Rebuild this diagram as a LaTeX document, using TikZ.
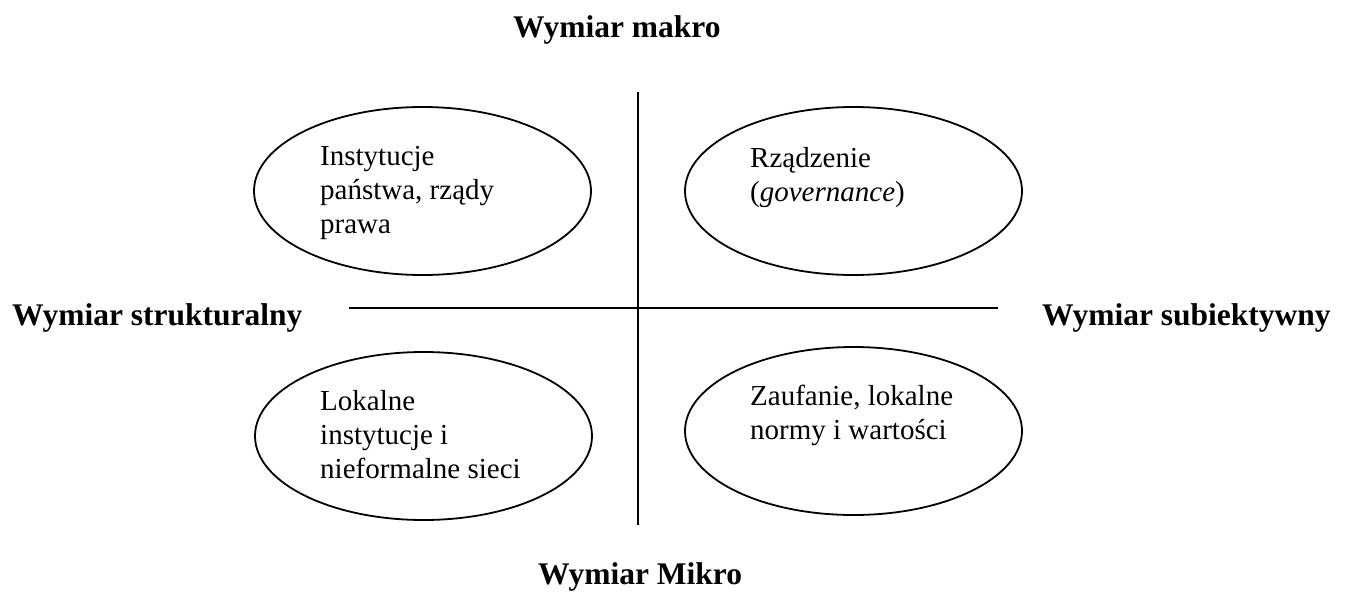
\documentclass[tikz,border=0pt]{standalone}
\usepackage{fontspec}
\setmainfont{Liberation Serif}
\usetikzlibrary{shapes.geometric}

% lines of a label stacked flush left; the box sits on the first baseline
\newcommand\stacklines[1]{\vtop{\baselineskip=34pt\lineskip=0pt\halign{##\hfil\cr#1\crcr}}}

\begin{document}
\begin{tikzpicture}[x=1pt, y=-1pt,
  axis/.style={line width=1.8pt},
  field/.style={ellipse, draw, line width=1.8pt, minimum width=337pt,
                minimum height=168pt, inner sep=0pt},
  fieldtext/.style={anchor=base west, inner sep=0pt,
                    font=\fontsize{29}{34}\selectfont},
  dimension/.style={anchor=base west, inner sep=0pt,
                    font=\fontsize{31.5}{36}\selectfont\bfseries}]
  \useasboundingbox (0,0) rectangle (1346,592);

  % axes
  \coordinate (top) at (638,92);
  \coordinate (bottom) at (638,525);
  \coordinate (left) at (349,308);
  \coordinate (right) at (998,308);
  \draw[axis] (top) -- (bottom);
  \draw[axis] (left) -- (right);

  % dimension labels
  \node[dimension] (macro) at (513,37) {Wymiar makro};
  \node[dimension] (micro) at (538,584) {Wymiar Mikro};
  \node[dimension] (struct) at (12,325) {Wymiar strukturalny};
  \node[dimension] (subj) at (1042,325) {Wymiar subiektywny};

  % quadrant ellipses
  \node[field] (e1) at (422.5,191) {};
  \node[field] (e2) at (853.5,191) {};
  \node[field] (e3) at (423.5,436) {};
  \node[field] (e4) at (853.5,431) {};

  % quadrant texts
  \node[fieldtext] (t1) at (320,165) {\stacklines{Instytucje\cr państwa, rządy\cr prawa}};
  \node[fieldtext] (t2) at (750,167) {\stacklines{Rządzenie\cr (\textit{governance})}};
  \node[fieldtext] (t3) at (320,410) {\stacklines{Lokalne\cr instytucje i\cr nieformalne sieci}};
  \node[fieldtext] (t4) at (750,405) {\stacklines{Zaufanie, lokalne\cr normy i wartości}};
\end{tikzpicture}
\end{document}
